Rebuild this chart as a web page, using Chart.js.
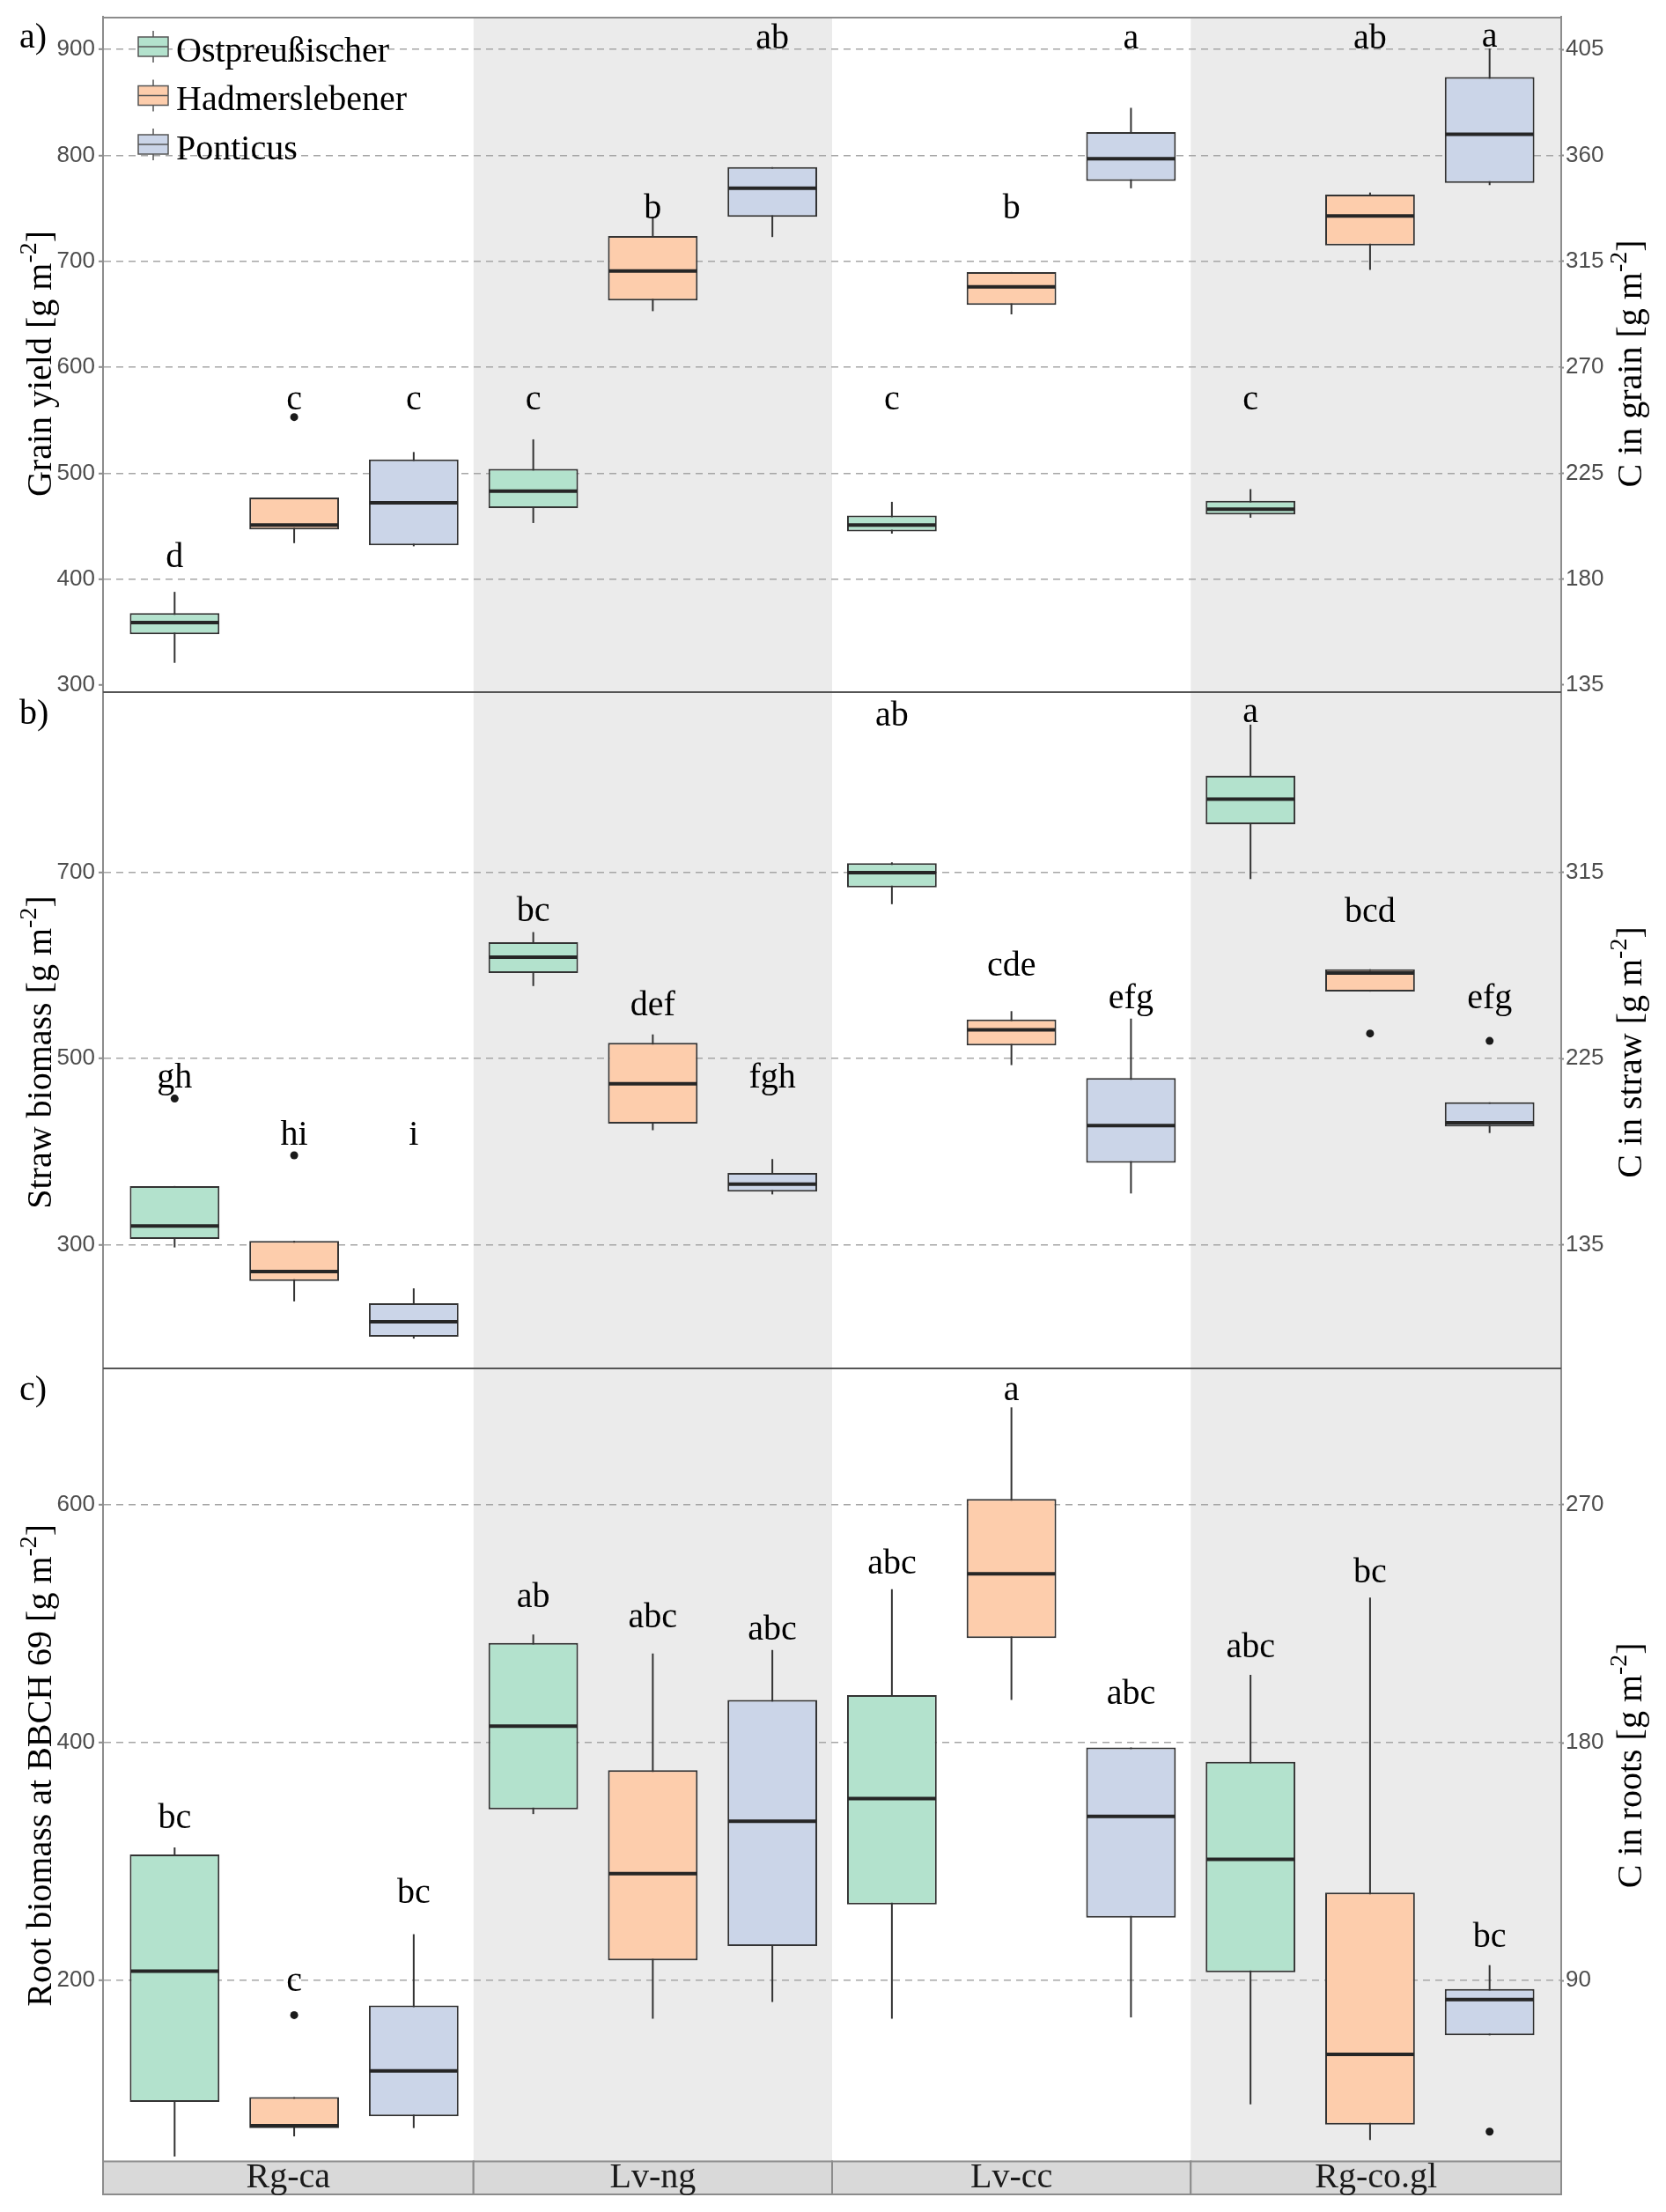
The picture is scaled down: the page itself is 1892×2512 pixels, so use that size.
<!DOCTYPE html>
<html>
<head>
<meta charset="utf-8">
<title>Grain, straw and root biomass</title>
<script src="https://cdn.jsdelivr.net/npm/chart.js@4.4.1/dist/chart.umd.min.js"></script>
<style>
  html, body { margin: 0; padding: 0; background: #fff; }
  #wrap { position: relative; width: 1892px; height: 2512px; }
  .panel { position: absolute; left: 0; width: 1892px; }
  #pa { top: 0; height: 787px; }
  #pb { top: 787px; height: 768px; }
  #pc { top: 1555px; height: 957px; }
</style>
</head>
<body>
<div id="wrap">
  <div class="panel" id="pa"><canvas id="chartA"></canvas></div>
  <div class="panel" id="pb"><canvas id="chartB"></canvas></div>
  <div class="panel" id="pc"><canvas id="chartC"></canvas></div>
</div>
<script>
//Sitios y cultivares
const sites = ["Rg-ca", "Lv-ng", "Lv-cc", "Rg-co.gl"];
const cultivars = ["Ostpreußischer", "Hadmerslebener", "Ponticus"];
const cultivarColours = ["#b3e2cd", "#fdcdac", "#cbd5e8"];
const carbonFactor = 0.45;

//a) Grain yield: [whisker low, Q1, median, Q3, whisker high] per site
const grainOst = [[321, 348, 359, 368, 388], [453, 467, 483, 504, 532], [443, 445, 451, 460, 473], [458, 461, 466, 474, 485]];
const grainHad = [[434, 447, 451, 477, 477], [653, 663, 691, 724, 742], [650, 659, 676, 690, 690], [692, 715, 743, 763, 765]];
const grainPon = [[431, 432, 472, 513, 520], [723, 742, 769, 789, 789], [769, 776, 797, 822, 845], [772, 774, 820, 874, 901]];
const grainOutliers = [{ cv: 1, site: 0, v: 553 }];
const grainLetters = [["d", "c", "c", "c"], ["c", "b", "b", "ab"], ["c", "ab", "a", "a"]];
const grainLetterY = [[411, 560, 560, 560], [560, 741, 741, 901], [560, 901, 901, 903]];
const grainTicks = [300, 400, 500, 600, 700, 800, 900];
const grainTicksC = [135, 180, 225, 270, 315, 360, 405];
const grainGrid = [400, 500, 600, 700, 800, 900];

//b) Straw biomass
const strawOst = [[297, 306, 320, 363, 363], [578, 592, 609, 625, 636], [666, 684, 700, 710, 711], [693, 752, 779, 804, 859]];
const strawHad = [[239, 261, 271, 304, 304], [423, 430, 473, 517, 526], [493, 514, 531, 542, 551], [572, 572, 592, 596, 596]];
const strawPon = [[199, 201, 217, 237, 253], [354, 357, 365, 377, 392], [355, 388, 428, 479, 543], [420, 427, 431, 453, 453]];
const strawOutliers = [{ cv: 0, site: 0, v: 457 }, { cv: 1, site: 0, v: 396 }, { cv: 1, site: 3, v: 527 }, { cv: 2, site: 3, v: 519 }];
const strawLetters = [["gh", "bc", "ab", "a"], ["hi", "def", "cde", "bcd"], ["i", "fgh", "efg", "efg"]];
const strawLetterY = [[469, 648, 858, 862], [407, 547, 589, 647], [407, 469, 554, 554]];
const strawTicks = [300, 500, 700];
const strawTicksC = [135, 225, 315];

//c) Root biomass at BBCH 69
const rootOst = [[52, 98, 208, 306, 312], [340, 344, 414, 484, 491], [168, 264, 353, 440, 529], [96, 207, 302, 384, 457]];
const rootHad = [[69, 76, 78, 102, 102], [168, 217, 290, 377, 475], [436, 488, 542, 605, 682], [66, 79, 138, 274, 522]];
const rootPon = [[76, 86, 124, 179, 239], [182, 229, 334, 436, 478], [169, 253, 338, 396, 396], [154, 154, 184, 193, 213]];
const rootOutliers = [{ cv: 1, site: 0, v: 171 }, { cv: 2, site: 3, v: 73 }];
const rootLetters = [["bc", "ab", "abc", "abc"], ["c", "abc", "a", "bc"], ["bc", "abc", "abc", "bc"]];
const rootLetterY = [[328, 514, 542, 472], [191, 497, 688, 535], [265, 487, 433, 228]];
const rootTicks = [200, 400, 600];
const rootTicksC = [90, 180, 270];

const SERIF = "'Liberation Serif', 'DejaVu Serif', serif";
const LINE = "#333333";

//Título de eje con superíndice, girado -90°
function drawAxisTitle(ctx, parts, x, yc) {
  ctx.save();
  ctx.translate(x, yc);
  ctx.rotate(-Math.PI / 2);
  ctx.fillStyle = "#000";
  ctx.textAlign = "left";
  ctx.textBaseline = "alphabetic";
  ctx.font = "40px " + SERIF;
  const w1 = ctx.measureText(parts[0]).width;
  const w3 = ctx.measureText(parts[2]).width;
  ctx.font = "28px " + SERIF;
  const w2 = ctx.measureText(parts[1]).width;
  let cx = -(w1 + w2 + w3) / 2;
  ctx.font = "40px " + SERIF;
  ctx.fillText(parts[0], cx, 0); cx += w1;
  ctx.font = "28px " + SERIF;
  ctx.fillText(parts[1], cx, -17); cx += w2;
  ctx.font = "40px " + SERIF;
  ctx.fillText(parts[2], cx, 0);
  ctx.restore();
}

function line(ctx, x0, y0, x1, y1) {
  ctx.beginPath(); ctx.moveTo(x0, y0); ctx.lineTo(x1, y1); ctx.stroke();
}

//Límites en píxeles de la columna de un sitio
function siteSpan(x, i) {
  const v0 = i === 0 ? x.min : i + 0.5;
  const v1 = i === sites.length - 1 ? x.max : i + 1.5;
  return [x.getPixelForValue(v0), x.getPixelForValue(v1)];
}

//Plugin: bandas, bigotes, medianas, atípicos, letras, marco
function boxExtras(cfg) {
  return {
    id: "boxExtras",
    beforeDraw(chart) {
      const { ctx, chartArea: a, scales: { x } } = chart;
      ctx.save();
      ctx.fillStyle = "#ebebeb";
      sites.forEach((s, i) => {
        if (i % 2 === 0) return;
        const [x0, x1] = siteSpan(x, i);
        ctx.fillRect(x0, a.top, x1 - x0, a.bottom - a.top);
      });
      ctx.restore();
    },
    beforeDatasetsDraw(chart) {
      const { ctx, scales: { y } } = chart;
      ctx.save();
      ctx.strokeStyle = LINE;
      ctx.lineWidth = 2;
      chart.data.datasets.forEach((ds, d) => {
        chart.getDatasetMeta(d).data.forEach((bar, i) => {
          const s = ds.stats[i];
          line(ctx, bar.x, y.getPixelForValue(s[0]), bar.x, y.getPixelForValue(s[4]));
        });
      });
      ctx.restore();
    },
    afterDatasetsDraw(chart) {
      const { ctx, scales: { y } } = chart;
      ctx.save();
      //medianas
      ctx.strokeStyle = "#262626";
      ctx.lineWidth = 4;
      chart.data.datasets.forEach((ds, d) => {
        chart.getDatasetMeta(d).data.forEach((bar, i) => {
          const py = y.getPixelForValue(ds.stats[i][2]);
          line(ctx, bar.x - bar.width / 2 + 1, py, bar.x + bar.width / 2 - 1, py);
        });
      });
      //atípicos
      ctx.fillStyle = "#1a1a1a";
      cfg.outliers.forEach(o => {
        const bar = chart.getDatasetMeta(o.cv).data[o.site];
        ctx.beginPath();
        ctx.arc(bar.x, y.getPixelForValue(o.v), 4.5, 0, Math.PI * 2);
        ctx.fill();
      });
      //letras
      ctx.fillStyle = "#000";
      ctx.font = "40px " + SERIF;
      ctx.textAlign = "center";
      ctx.textBaseline = "alphabetic";
      chart.data.datasets.forEach((ds, d) => {
        chart.getDatasetMeta(d).data.forEach((bar, i) => {
          ctx.fillText(ds.letters[i], bar.x, y.getPixelForValue(ds.letterY[i]));
        });
      });
      ctx.restore();
    },
    afterDraw(chart) {
      const { ctx, chartArea: a, scales: { x } } = chart;
      ctx.save();
      //marco
      if (cfg.topLine) {
        ctx.strokeStyle = "#8c8c8c"; ctx.lineWidth = 2;
        line(ctx, a.left, a.top + 1, a.right, a.top + 1);
      }
      if (!cfg.strip) {
        ctx.strokeStyle = "#555555"; ctx.lineWidth = 2;
        line(ctx, a.left, a.bottom - 1, a.right, a.bottom - 1);
      }
      //etiqueta del panel
      ctx.fillStyle = "#000";
      ctx.font = "40px " + SERIF;
      ctx.textAlign = "left";
      ctx.textBaseline = "alphabetic";
      ctx.fillText(cfg.tag, 22, a.top + 35);
      //títulos de ejes
      const yc = (a.top + a.bottom) / 2 + cfg.titleShift;
      drawAxisTitle(ctx, cfg.leftTitle, 58, yc);
      drawAxisTitle(ctx, cfg.rightTitle, 1864, yc);
      //leyenda
      if (cfg.legend) {
        chart.data.datasets.forEach((ds, c) => {
          const cy = a.top + 34 + c * 55.5;
          const kx = a.left + 40, kw = 34;
          ctx.strokeStyle = "#555555"; ctx.lineWidth = 1.5;
          line(ctx, kx + kw / 2, cy - 18, kx + kw / 2, cy + 18);
          ctx.fillStyle = ds.backgroundColor;
          ctx.fillRect(kx, cy - 11, kw, 22);
          ctx.strokeRect(kx, cy - 11, kw, 22);
          line(ctx, kx, cy, kx + kw, cy);
          ctx.fillStyle = "#000";
          ctx.font = "40px " + SERIF;
          ctx.fillText(ds.label, a.left + 83, cy + 16.5);
        });
      }
      //franja de sitios
      if (cfg.strip) {
        const top = a.bottom, h = 37.5;
        sites.forEach((s, i) => {
          const [x0, x1] = siteSpan(x, i);
          ctx.fillStyle = "#d9d9d9";
          ctx.fillRect(x0, top, x1 - x0, h);
          ctx.strokeStyle = "#8c8c8c"; ctx.lineWidth = 2;
          ctx.strokeRect(x0, top, x1 - x0, h);
          ctx.fillStyle = "#1a1a1a";
          ctx.font = "40px " + SERIF;
          ctx.textAlign = "center";
          ctx.fillText(s, (x0 + x1) / 2, top + 29);
        });
      }
      ctx.restore();
    }
  };
}

function makePanel(cfg) {
  const datasets = cultivars.map((name, c) => ({
    label: name,
    data: cfg.stats[c].map((s, i) => ({ x: i + 1, y: [s[1], s[3]] })),
    stats: cfg.stats[c],
    letters: cfg.letters[c],
    letterY: cfg.letterY[c],
    backgroundColor: cultivarColours[c],
    borderColor: LINE,
    borderWidth: 2,
    borderSkipped: false,
    categoryPercentage: 1.0,
    barPercentage: 0.75
  }));

  const tickFont = { family: "'Liberation Sans', Arial, sans-serif", size: 26 };

  return new Chart(document.getElementById(cfg.id), {
    type: "bar",
    data: { datasets },
    options: {
      animation: false,
      responsive: true,
      maintainAspectRatio: false,
      layout: { padding: cfg.padding, autoPadding: false },
      plugins: { legend: { display: false }, tooltip: { enabled: false } },
      scales: {
        x: {
          type: "linear", display: false, offset: false, min: 0.467, max: 4.533,
          afterBuildTicks: s => { s.ticks = sites.map((n, i) => ({ value: i + 1 })); }
        },
        y: {
          position: "left", min: cfg.min, max: cfg.max,
          afterBuildTicks: s => { s.ticks = cfg.ticks.map(v => ({ value: v })); },
          afterFit: s => { s.width = 117; s.paddingTop = 0; s.paddingBottom = 0; },
          grid: {
            color: c => (c.tick && cfg.grid.includes(c.tick.value)) ? "#a6a6a6" : "rgba(0,0,0,0)",
            lineWidth: 1.6, tickLength: 5, tickColor: "#8c8c8c", tickWidth: 2
          },
          border: { display: true, color: "#8c8c8c", width: 2, dash: [8, 6] },
          ticks: { color: "#4d4d4d", font: tickFont, padding: 4 }
        },
        y2: {
          position: "right", min: cfg.min * carbonFactor, max: cfg.max * carbonFactor,
          afterBuildTicks: s => { s.ticks = cfg.ticksC.map(v => ({ value: v })); },
          afterFit: s => { s.width = 119; s.paddingTop = 0; s.paddingBottom = 0; },
          grid: { drawOnChartArea: false, tickLength: 3, tickColor: "#8c8c8c", tickWidth: 2 },
          border: { display: true, color: "#8c8c8c", width: 2 },
          ticks: { color: "#4d4d4d", font: tickFont, padding: 2 }
        }
      }
    },
    plugins: [boxExtras(cfg)]
  });
}

document.addEventListener("DOMContentLoaded", () => {
  makePanel({
    id: "chartA", tag: "a)", stats: [grainOst, grainHad, grainPon], outliers: grainOutliers,
    letters: grainLetters, letterY: grainLetterY, min: 292.5, max: 931,
    ticks: grainTicks, ticksC: grainTicksC, grid: grainGrid, titleShift: 10,
    leftTitle: ["Grain yield [g m", "-2", "]"], rightTitle: ["C in grain [g m", "-2", "]"],
    padding: { top: 19, bottom: 0, left: 0, right: 0 }, legend: true, strip: false, topLine: true
  });
  makePanel({
    id: "chartB", tag: "b)", stats: [strawOst, strawHad, strawPon], outliers: strawOutliers,
    letters: strawLetters, letterY: strawLetterY, min: 166, max: 893,
    ticks: strawTicks, ticksC: strawTicksC, grid: strawTicks, titleShift: 24,
    leftTitle: ["Straw biomass [g m", "-2", "]"], rightTitle: ["C in straw [g m", "-2", "]"],
    padding: { top: 0, bottom: 0, left: 0, right: 0 }, legend: false, strip: false, topLine: false
  });
  makePanel({
    id: "chartC", tag: "c)", stats: [rootOst, rootHad, rootPon], outliers: rootOutliers,
    letters: rootLetters, letterY: rootLetterY, min: 48, max: 714,
    ticks: rootTicks, ticksC: rootTicksC, grid: rootTicks, titleShift: 0,
    leftTitle: ["Root biomass at BBCH 69 [g m", "-2", "]"], rightTitle: ["C in roots [g m", "-2", "]"],
    padding: { top: 0, bottom: 57.5, left: 0, right: 0 }, legend: false, strip: true, topLine: false
  });
});
</script>
</body>
</html>
